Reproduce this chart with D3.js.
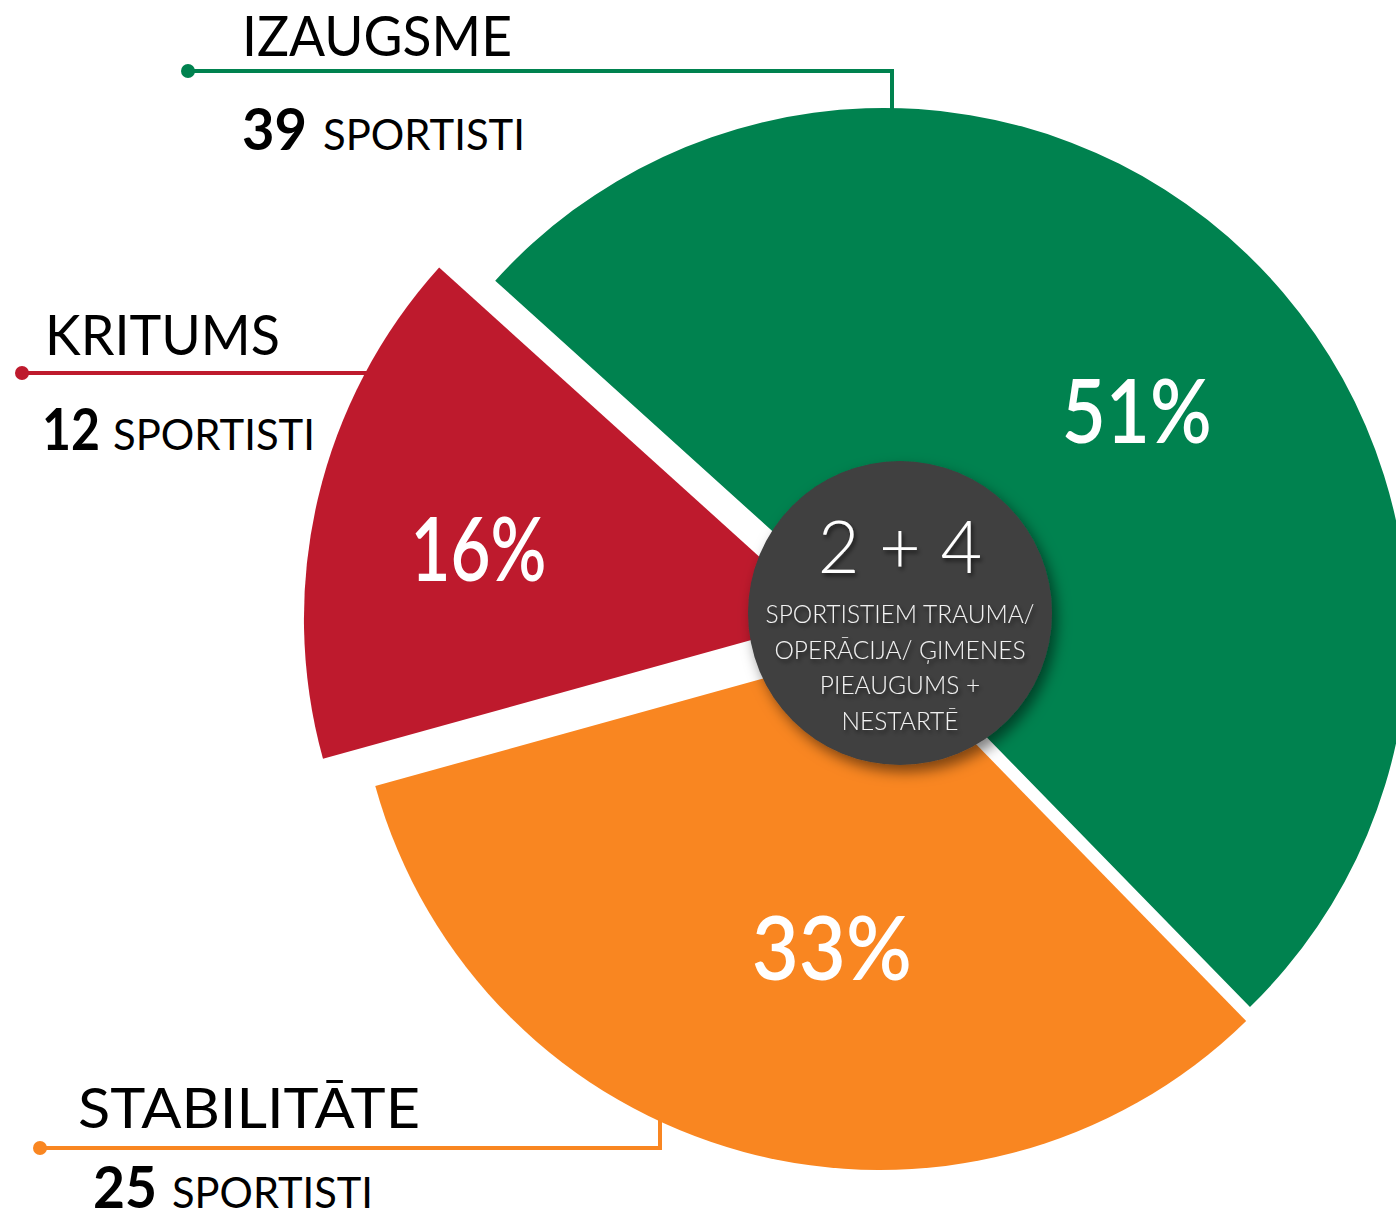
<!DOCTYPE html>
<html>
<head>
<meta charset="utf-8">
<script src="https://cdn.jsdelivr.net/npm/d3@7"></script>
<style>
  html, body { margin: 0; padding: 0; background: #fff; }
  svg { display: block; }
</style>
</head>
<body>
<svg></svg>
<script>
// chart data
var categories = ["IZAUGSME", "STABILITĀTE", "KRITUMS"];
var percents = [51, 33, 16];
var athletes = [39, 25, 12];
var unitLabel = "SPORTISTI";
var colors = ["#00824f", "#f98621", "#be1a2d"];
var centerTitle = "2 + 4";
var centerLines = ["SPORTISTIEM TRAUMA/", "OPERĀCIJA/ ĢIMENES", "PIEAUGUMS +", "NESTARTĒ"];

var width = 1396, height = 1220;
var cx = 884, cy = 632, radius = 524;
var toRad = Math.PI / 180;
var explode = [0, 14.5, 57.6];

// legend / connector layout per slice
var callouts = [
  {title: [242, 56, 270], count: [242, 150, 65], unit: [323, 150, 202], line: [[188, 71], [892, 71], [892, 140]]},
  {title: [78, 1128, 342], count: [93, 1208, 64], unit: [172, 1208, 201], line: [[40, 1148], [660, 1148], [660, 1100]]},
  {title: [45, 355, 235], count: [42, 450, 58], unit: [113, 450, 202], line: [[22, 373], [420, 373]]}
];
// percentage label placement (radius share, angle shift in degrees, width)
var pctPlace = [[0.64, 5, 150], [0.585, -6, 160], [0.68, -2, 136]];

var svg = d3.select("svg")
    .attr("width", width)
    .attr("height", height);

var defs = svg.append("defs");
var shadow = defs.append("filter").attr("id", "shadow")
    .attr("x", "-30%").attr("y", "-30%").attr("width", "160%").attr("height", "160%");
shadow.append("feDropShadow")
    .attr("dx", 5).attr("dy", 7).attr("stdDeviation", 7)
    .attr("flood-color", "#000").attr("flood-opacity", 0.5);
var tshadow = defs.append("filter").attr("id", "tshadow")
    .attr("x", "-20%").attr("y", "-20%").attr("width", "140%").attr("height", "140%");
tshadow.append("feDropShadow")
    .attr("dx", 2).attr("dy", 3).attr("stdDeviation", 2)
    .attr("flood-color", "#000").attr("flood-opacity", 0.6);

var pie = d3.pie()
    .sort(null)
    .value(function(d) { return d; })
    .startAngle(-47.9 * toRad)
    .endAngle(-47.9 * toRad + 2 * Math.PI);

var arcs = pie(percents);

var arc = d3.arc().innerRadius(0).outerRadius(radius);

function offset(d, i) {
  var mid = (d.startAngle + d.endAngle) / 2;
  return [Math.sin(mid) * explode[i], -Math.cos(mid) * explode[i]];
}

// connector lines (under the slices)
var legend = svg.append("g").attr("class", "legend");
callouts.forEach(function(c, i) {
  legend.append("path")
      .attr("d", d3.line()(c.line))
      .attr("fill", "none")
      .attr("stroke", colors[i])
      .attr("stroke-width", 4);
  legend.append("circle")
      .attr("cx", c.line[0][0])
      .attr("cy", c.line[0][1])
      .attr("r", 7)
      .attr("fill", colors[i]);
});

// slices
var slices = svg.append("g")
    .attr("transform", "translate(" + cx + "," + cy + ")");

slices.selectAll("path")
    .data(arcs)
    .enter()
    .append("path")
    .attr("transform", function(d, i) { return "translate(" + offset(d, i) + ")"; })
    .attr("d", arc)
    .attr("fill", function(d, i) { return colors[i]; });

// percentage labels
slices.selectAll("text.pct")
    .data(arcs)
    .enter()
    .append("text")
    .attr("class", "pct")
    .attr("x", function(d, i) {
      var a = (d.startAngle + d.endAngle) / 2 + pctPlace[i][1] * toRad;
      return offset(d, i)[0] + Math.sin(a) * radius * pctPlace[i][0];
    })
    .attr("y", function(d, i) {
      var a = (d.startAngle + d.endAngle) / 2 + pctPlace[i][1] * toRad;
      return offset(d, i)[1] - Math.cos(a) * radius * pctPlace[i][0];
    })
    .attr("dy", "0.36em")
    .attr("text-anchor", "middle")
    .attr("textLength", function(d, i) { return pctPlace[i][2]; })
    .attr("lengthAdjust", "spacingAndGlyphs")
    .attr("font-family", "Lato, 'Open Sans', sans-serif")
    .attr("font-weight", 600)
    .attr("font-size", 88)
    .attr("fill", "#fff")
    .text(function(d) { return d.data + "%"; });

// title + count text
callouts.forEach(function(c, i) {
  legend.append("text")
      .attr("x", c.title[0])
      .attr("y", c.title[1])
      .attr("textLength", c.title[2])
      .attr("lengthAdjust", "spacingAndGlyphs")
      .attr("font-family", "Lato, 'Open Sans', sans-serif")
      .attr("font-size", 56)
      .attr("fill", "#000")
      .text(categories[i]);
  legend.append("text")
      .attr("x", c.count[0])
      .attr("y", c.count[1])
      .attr("textLength", c.count[2])
      .attr("lengthAdjust", "spacingAndGlyphs")
      .attr("font-family", "Lato, 'Open Sans', sans-serif")
      .attr("font-weight", 700)
      .attr("font-size", 58)
      .attr("fill", "#000")
      .text(athletes[i]);
  legend.append("text")
      .attr("x", c.unit[0])
      .attr("y", c.unit[1])
      .attr("textLength", c.unit[2])
      .attr("lengthAdjust", "spacingAndGlyphs")
      .attr("font-family", "Lato, 'Open Sans', sans-serif")
      .attr("font-size", 42)
      .attr("fill", "#000")
      .text(unitLabel);
});

// center badge
var badge = svg.append("g").attr("transform", "translate(900,613)");
badge.append("circle")
    .attr("r", 152)
    .attr("fill", "#404040")
    .attr("filter", "url(#shadow)");
badge.append("text")
    .attr("y", -40)
    .attr("text-anchor", "middle")
    .attr("font-family", "Lato, 'Open Sans', sans-serif")
    .attr("font-weight", 300)
    .attr("font-size", 72)
    .attr("fill", "#fff")
    .attr("filter", "url(#tshadow)")
    .text(centerTitle);
badge.selectAll("text.sub")
    .data(centerLines)
    .enter()
    .append("text")
    .attr("class", "sub")
    .attr("y", function(d, i) { return 10 + i * 35.5; })
    .attr("text-anchor", "middle")
    .attr("font-family", "Lato, 'Open Sans', sans-serif")
    .attr("font-weight", 300)
    .attr("font-size", 24.5)
    .attr("fill", "#f2f2f2")
    .attr("filter", "url(#tshadow)")
    .text(function(d) { return d; });
</script>
</body>
</html>
